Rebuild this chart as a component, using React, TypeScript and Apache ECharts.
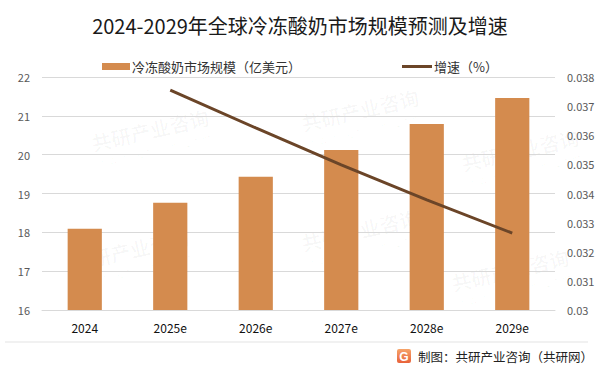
import React, { useEffect, useRef } from "react";
import * as echarts from "echarts";

const categories = ["2024", "2025e", "2026e", "2027e", "2028e", "2029e"];
const marketSize = [18.09, 18.76, 19.43, 20.12, 20.79, 21.46];
const growthRate = [null, 0.03755, 0.03625, 0.03498, 0.03378, 0.03264];
const title = "2024-2029年全球冷冻酸奶市场规模预测及增速";
const barName = "冷冻酸奶市场规模（亿美元）";
const lineName = "增速（%）";
const source = "制图：共研产业咨询（共研网）";

const BAR_COLOR = "#D48B4E";
const LINE_COLOR = "#6B4528";
const FONT = "'Microsoft YaHei', 'Noto Sans CJK SC', sans-serif";

function watermarks() {
  const pos = [
    [150, 130], [360, 110], [520, 150],
    [130, 250], [360, 230], [510, 270],
  ];
  const els: any[] = [];
  pos.forEach(([x, y]) => {
    els.push({
      type: "group",
      x,
      y,
      rotation: Math.PI / 14,
      silent: true,
      z: -10,
      children: [
        {
          type: "text",
          style: {
            text: "共研产业咨询",
            x: 0,
            y: 0,
            fontSize: 20,
            fontWeight: "bold",
            fontFamily: FONT,
            fill: "rgba(0,0,0,0.03)",
            align: "center",
            verticalAlign: "middle",
          },
        },
        {
          type: "text",
          style: {
            text: "w w w . g o n y n . c o m",
            x: 0,
            y: 20,
            fontSize: 11,
            fontFamily: FONT,
            fill: "rgba(0,0,0,0.03)",
            align: "center",
            verticalAlign: "middle",
          },
        },
      ],
    });
  });
  return els;
}

export default function App() {
  const ref = useRef<HTMLDivElement>(null);
  useEffect(() => {
    if (!ref.current) return;
    const chart = echarts.init(ref.current, undefined, { renderer: "svg" });
    chart.setOption({
      animation: false,
      backgroundColor: "#ffffff",
      title: {
        text: title,
        left: "center",
        top: 10,
        textStyle: {
          fontSize: 20,
          fontWeight: "normal",
          color: "#1a1a1a",
          fontFamily: FONT,
        },
      },
      legend: [
        {
          data: [{ name: barName, icon: "rect" }],
          left: 97,
          top: 55,
          itemWidth: 28,
          itemHeight: 7,
          itemGap: 4,
          textStyle: { fontSize: 13, color: "#333", fontFamily: FONT, padding: [0, 0, 0, -3] },
        },
        {
          data: [{ name: lineName, icon: "rect" }],
          left: 397,
          top: 55,
          itemWidth: 30,
          itemHeight: 3,
          textStyle: { fontSize: 13, color: "#333", fontFamily: FONT, padding: [0, 0, 0, -3] },
        },
      ],
      grid: { left: 42, right: 45, top: 77, bottom: 64 },
      xAxis: {
        type: "category",
        data: categories,
        axisTick: { show: false },
        axisLine: { lineStyle: { color: "#d9d9d9" } },
        axisLabel: { color: "#111", fontSize: 12, margin: 11, fontFamily: FONT },
      },
      yAxis: [
        {
          type: "value",
          min: 16,
          max: 22,
          interval: 1,
          axisLine: { show: false },
          axisTick: { show: false },
          splitLine: { lineStyle: { color: "#d9d9d9" } },
          axisLabel: { color: "#595959", fontSize: 11, margin: 12, fontFamily: FONT },
        },
        {
          type: "value",
          min: 0.03,
          max: 0.038,
          interval: 0.001,
          axisLine: { show: false },
          axisTick: { show: false },
          splitLine: { show: false },
          axisLabel: {
            color: "#595959",
            fontSize: 11,
            margin: 12,
            fontFamily: FONT,
            formatter: (v: number) => String(parseFloat(v.toFixed(3))),
          },
        },
      ],
      series: [
        {
          name: barName,
          type: "bar",
          data: marketSize,
          barWidth: "40%",
          itemStyle: { color: BAR_COLOR },
        },
        {
          name: lineName,
          type: "line",
          yAxisIndex: 1,
          data: growthRate,
          showSymbol: false,
          symbol: "none",
          lineStyle: { color: LINE_COLOR, width: 3 },
          itemStyle: { color: LINE_COLOR },
          z: 5,
        },
      ],
      graphic: [
        ...watermarks(),
        {
          type: "line",
          shape: { x1: 5, y1: 342, x2: 588, y2: 342 },
          style: { stroke: "#e3e3e3", lineWidth: 1 },
        },
        {
          type: "rect",
          shape: { x: 397, y: 349, width: 14, height: 14, r: 2 },
          style: {
            fill: new echarts.graphic.LinearGradient(0, 0, 0, 1, [
              { offset: 0, color: "#F6A46A" },
              { offset: 1, color: "#E8623A" },
            ]),
          },
        },
        {
          type: "text",
          style: {
            text: "G",
            x: 404,
            y: 356.5,
            fontSize: 12,
            fontWeight: "bold",
            fill: "#fff",
            align: "center",
            verticalAlign: "middle",
            fontFamily: "Arial, sans-serif",
          },
        },
        {
          type: "text",
          style: {
            text: source,
            x: 418,
            y: 356,
            fontSize: 12.5,
            fill: "#222",
            verticalAlign: "middle",
            fontFamily: FONT,
          },
        },
      ],
    });
    return () => chart.dispose();
  }, []);
  return (
    <div
      ref={ref}
      style={{ position: "fixed", left: 0, top: 0, width: 600, height: 374 }}
    />
  );
}
